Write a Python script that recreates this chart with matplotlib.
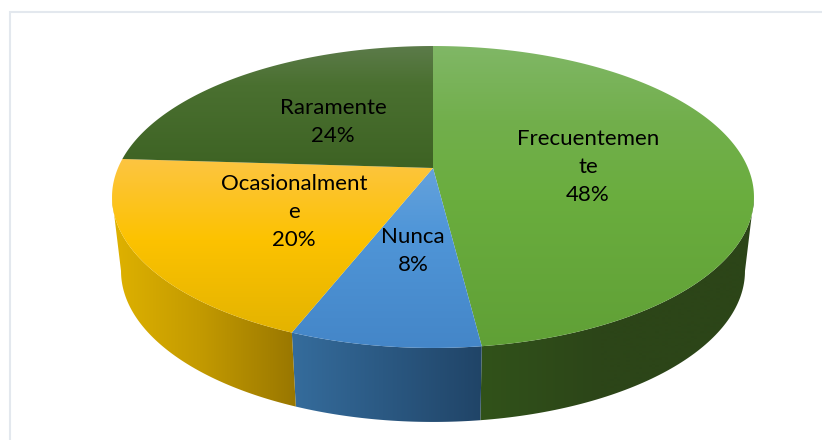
import numpy as np
from matplotlib import pyplot as plt
from matplotlib.patches import Polygon, Rectangle

categories = ['Frecuentemente', 'Nunca', 'Ocasionalmente', 'Raramente']
values = [48, 8, 20, 24]
label_lines = ['Frecuentemen\nte', 'Nunca', 'Ocasionalment\ne', 'Raramente']
label_pos = [(588, 167), (413, 251), (294, 212), (333, 122)]

# vertical colour stops of the top face (pixel y, colour)
top_colors = [
    [(46, '#80b766'), (120, '#72af4c'), (200, '#6aad3e'), (348, '#60a036')],
    [(170, '#64a2dc'), (230, '#5096d8'), (348, '#4486c8')],
    [(155, '#fdc545'), (240, '#fcc200'), (335, '#e3b300')],
    [(46, '#5c7b4a'), (85, '#4a7030'), (165, '#3e6324')],
]
# horizontal colour stops of the side wall (pixel x, colour)
side_colors = [
    [(482, '#31521a'), (600, '#2c4518'), (754, '#2c4518')],
    [(293, '#356c9c'), (482, '#204467')],
    [(112, '#dfb200'), (200, '#c39a00'), (297, '#987600')],
]

W, H = 822, 440
CX, CY = 433, 168
R, S, K = 315, 145.4, 0.192   # perspective circle
DEPTH = 74
SHRINK = 0.972


def top_point(theta):
    # theta clockwise from 12 o'clock, radians
    u, v = np.sin(theta), -np.cos(theta)
    w = 1 - K * v
    return CX + R * u / w, CY + S * v / w


def bottom_point(theta):
    x, y = top_point(theta)
    return CX + (x - CX) * SHRINK, y + DEPTH


def hexrgb(c):
    return [int(c[i:i + 2], 16) / 255 for i in (1, 3, 5)]


def gradient(stops, n):
    pos = [s[0] for s in stops]
    rgb = np.array([hexrgb(s[1]) for s in stops])
    t = np.arange(n) + 0.5
    return np.stack([np.interp(t, pos, rgb[:, i]) for i in range(3)], axis=-1)


def fill(ax, pts, stops, vertical):
    poly = Polygon(pts, closed=True, fc='none', ec='none', transform=ax.transData)
    ax.add_patch(poly)
    if vertical:
        img = gradient(stops, H)[:, None, :]
    else:
        img = gradient(stops, W)[None, :, :]
    im = ax.imshow(img, extent=(0, W, H, 0), aspect='auto', interpolation='bilinear', zorder=2)
    im.set_clip_path(poly)


fig = plt.figure(figsize=(8.22, 4.4), dpi=100)
ax = fig.add_axes([0, 0, 1, 1])
ax.set_xlim(0, W)
ax.set_ylim(H, 0)
ax.axis('off')

ax.add_patch(Rectangle((9.5, 12.5), W, H, fc='white', ec='#e3e8ee', lw=1.5))

edges = np.cumsum([0] + values) / sum(values) * 2 * np.pi
lim_r = np.pi - np.arccos(K)
lim_l = 2 * np.pi - lim_r

# side walls first, only the part facing the viewer
for i in range(3):
    a = max(edges[i], lim_r)
    b = min(edges[i + 1], lim_l)
    th = np.linspace(a, b, 80)
    upper = [top_point(t) for t in th]
    lower = [bottom_point(t) for t in th[::-1]]
    fill(ax, upper + lower, side_colors[i], False)

for i in range(len(values)):
    th = np.linspace(edges[i], edges[i + 1], 200)
    pts = [(CX, CY)] + [top_point(t) for t in th]
    fill(ax, pts, top_colors[i], True)

for i in range(len(values)):
    txt = '%s\n%d%%' % (label_lines[i], values[i])
    ax.text(label_pos[i][0], label_pos[i][1], txt, ha='center', va='center', ma='center',
            fontsize=16, family=['Lato', 'DejaVu Sans'], color='black', linespacing=1.47, zorder=5)

fig.savefig('out.png', dpi=100)
